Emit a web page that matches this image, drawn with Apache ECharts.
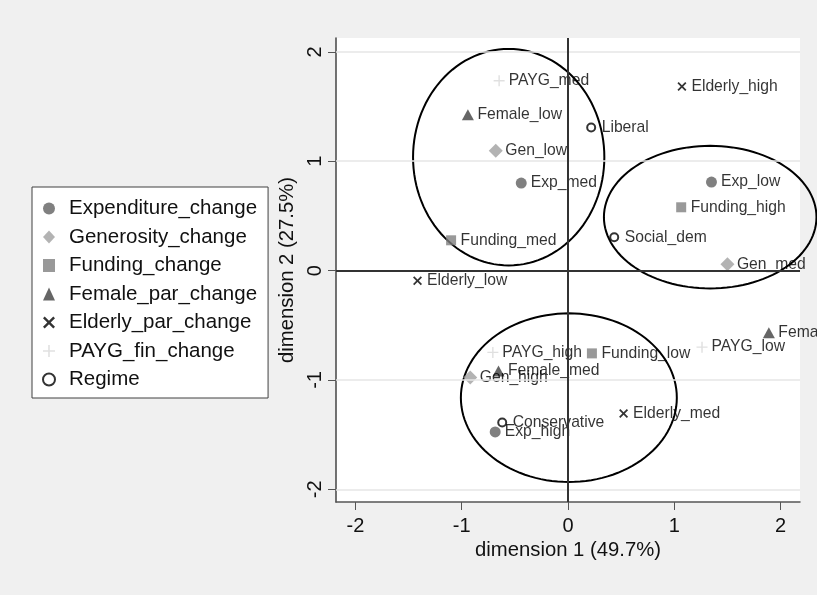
<!DOCTYPE html>
<html>
<head>
<meta charset="utf-8">
<title>MCA biplot</title>
<script src="https://cdn.jsdelivr.net/npm/echarts@6/dist/echarts.min.js"></script>
<style>
  html, body { margin: 0; padding: 0; background: #f0f0f0; }
  #chart { width: 817px; height: 595px; }
</style>
</head>
<body>
<div id="chart"></div>
<script>
// Axis ticks
const xTicks = [-2, -1, 0, 1, 2];
const yTicks = [-2, -1, 0, 1, 2];
const gridTicks = [-2, -1, 1, 2];

// Category coordinates (dimension 1, dimension 2)
const expLabels = ['Exp_low', 'Exp_med', 'Exp_high'];
const expX = [1.35, -0.44, -0.685];
const expY = [0.81, 0.80, -1.475];

const genLabels = ['Gen_low', 'Gen_med', 'Gen_high'];
const genX = [-0.68, 1.50, -0.92];
const genY = [1.095, 0.058, -0.977];

const fundLabels = ['Funding_low', 'Funding_med', 'Funding_high'];
const fundX = [0.225, -1.10, 1.065];
const fundY = [-0.757, 0.277, 0.579];

const femLabels = ['Female_low', 'Female_med', 'Female_high'];
const femX = [-0.942, -0.654, 1.89];
const femY = [1.425, -0.917, -0.569];

const eldLabels = ['Elderly_low', 'Elderly_med', 'Elderly_high'];
const eldX = [-1.416, 0.523, 1.072];
const eldY = [-0.092, -1.307, 1.684];

const paygLabels = ['PAYG_low', 'PAYG_med', 'PAYG_high'];
const paygX = [1.261, -0.648, -0.707];
const paygY = [-0.70, 1.736, -0.748];

const regLabels = ['Liberal', 'Social_dem', 'Conservative'];
const regX = [0.218, 0.435, -0.619];
const regY = [1.309, 0.305, -1.389];

// Cluster ellipses: centre and semi-axes in data units
const ellCx = [-0.558, 1.338, 0.008];
const ellCy = [1.037, 0.489, -1.162];
const ellRx = [0.90, 1.00, 1.016];
const ellRy = [0.99, 0.652, 0.771];

const seriesNames = ['Expenditure_change', 'Generosity_change', 'Funding_change',
  'Female_par_change', 'Elderly_par_change', 'PAYG_fin_change', 'Regime'];

const crossPath = 'path://M0,1.4L1.4,0L5,3.6L8.6,0L10,1.4L6.4,5L10,8.6L8.6,10L5,6.4L1.4,10L0,8.6L3.6,5Z';
const plusPath = 'path://M4.35,0L5.65,0L5.65,4.35L10,4.35L10,5.65L5.65,5.65L5.65,10L4.35,10L4.35,5.65L0,5.65L0,4.35L4.35,4.35Z';

function pts(labels, xs, ys) {
  return labels.map((n, i) => ({ name: n, value: [xs[i], ys[i]] }));
}

const FONT = '"Liberation Sans", Arial, Helvetica, sans-serif';

function scatter(name, labels, xs, ys, symbol, size, style) {
  const half = Array.isArray(size) ? size[0] / 2 : size / 2;
  return {
    name: name,
    type: 'scatter',
    z: 3,
    symbol: symbol,
    symbolSize: size,
    symbolKeepAspect: true,
    itemStyle: style,
    data: pts(labels, xs, ys),
    label: {
      show: true,
      position: 'right',
      distance: Math.max(1, 9.5 - half),
      formatter: p => p.name,
      fontSize: 15.7,
      fontFamily: FONT,
      color: '#000'
    },
    emphasis: { disabled: true }
  };
}

const chart = echarts.init(document.getElementById('chart'), null, { renderer: 'canvas' });

const option = {
  animation: false,
  backgroundColor: '#f0f0f0',
  textStyle: { fontFamily: FONT },
  grid: {
    left: 336, right: 17, top: 38, bottom: 93,
    show: true, backgroundColor: '#ffffff', borderWidth: 0
  },
  legend: {
    orient: 'vertical',
    left: 32, top: 187,
    data: seriesNames,
    backgroundColor: '#ffffff',
    borderColor: '#404040',
    borderWidth: 1,
    padding: [11, 11, 8, 10],
    itemWidth: 12,
    itemHeight: 13,
    itemGap: 7.5,
    symbolKeepAspect: true,
    selectedMode: false,
    textStyle: { fontSize: 20.5, color: '#111', fontFamily: FONT, padding: [0, 0, 0, 9] }
  },
  xAxis: {
    type: 'value',
    min: -2.183, max: 2.183,
    axisLine: { onZero: false, lineStyle: { color: '#555', width: 1.5 } },
    axisTick: { customValues: xTicks, length: 8, lineStyle: { color: '#555', width: 1 } },
    axisLabel: { customValues: xTicks, fontSize: 20, margin: 14, color: '#111', fontFamily: FONT },
    splitLine: { show: false },
    name: 'dimension 1 (49.7%)',
    nameLocation: 'middle',
    nameGap: 38,
    nameTextStyle: { fontSize: 20.3, color: '#111', fontFamily: FONT }
  },
  yAxis: {
    type: 'value',
    min: -2.116, max: 2.127,
    axisLine: { onZero: false, lineStyle: { color: '#444', width: 1.5 } },
    axisTick: { customValues: yTicks, length: 8, lineStyle: { color: '#555', width: 1 } },
    axisLabel: { customValues: yTicks, fontSize: 20, margin: 11, rotate: 90, color: '#111', fontFamily: FONT },
    splitLine: { show: false },
    name: 'dimension 2 (27.5%)',
    nameLocation: 'middle',
    nameGap: 32,
    nameTextStyle: { fontSize: 20.3, color: '#111', fontFamily: FONT }
  },
  series: [
    {
      name: 'refLines',
      type: 'scatter',
      z: 1,
      data: [],
      silent: true,
      markLine: {
        silent: true,
        symbol: 'none',
        label: { show: false },
        animation: false,
        data: gridTicks.map(v => ({ yAxis: v, lineStyle: { color: '#e6e6e6', width: 1.5, type: 'solid' } }))
          .concat([
            { yAxis: 0, lineStyle: { color: '#333', width: 2, type: 'solid' } },
            { xAxis: 0, lineStyle: { color: '#333', width: 2, type: 'solid' } }
          ])
      }
    },
    {
      name: 'clusters',
      type: 'custom',
      z: 2,
      clip: false,
      silent: true,
      data: ellCx.map((c, i) => [c, ellCy[i], ellRx[i], ellRy[i]]),
      renderItem: function (params, api) {
        const c = api.coord([api.value(0), api.value(1)]);
        const s = api.size([api.value(2), api.value(3)]);
        const points = [];
        const n = 120;
        for (let k = 0; k < n; k++) {
          const t = (k / n) * Math.PI * 2;
          points.push([c[0] + s[0] * Math.cos(t), c[1] + s[1] * Math.sin(t)]);
        }
        return {
          type: 'polygon',
          shape: { points: points },
          style: { fill: 'none', stroke: '#000', lineWidth: 2 }
        };
      }
    },
    scatter(seriesNames[0], expLabels, expX, expY, 'circle', 11, { color: '#606060' }),
    scatter(seriesNames[1], genLabels, genX, genY, 'diamond', 14, { color: '#a0a0a0' }),
    scatter(seriesNames[2], fundLabels, fundX, fundY, 'rect', 10, { color: '#808080' }),
    scatter(seriesNames[3], femLabels, femX, femY, 'triangle', [12, 11], { color: '#404040' }),
    scatter(seriesNames[4], eldLabels, eldX, eldY, crossPath, 9, { color: '#000' }),
    scatter(seriesNames[5], paygLabels, paygX, paygY, plusPath, 11, { color: '#d8d8d8' }),
    scatter(seriesNames[6], regLabels, regX, regY, 'emptyCircle', 8, { color: '#000', borderColor: '#000', borderWidth: 2 })
  ]
};

chart.setOption(option);
</script>
</body>
</html>
